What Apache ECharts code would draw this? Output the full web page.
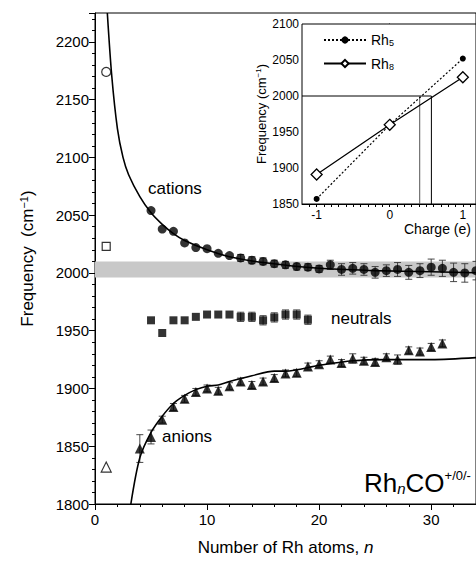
<!DOCTYPE html>
<html><head><meta charset="utf-8">
<script src="https://cdn.jsdelivr.net/npm/echarts@6/dist/echarts.min.js"></script>
<style>html,body{margin:0;padding:0;background:#fff}#c{width:476px;height:562px}</style>
</head><body><div id="c"></div>
<script>
// main plot data
const cationN = [5,6,7,8,9,10,11,12,13,14,15,16,17,18,19,20,21,22,23,24,25,26,27,28,29,30,31,32,33,34];
const cationF = [2054,2038,2036,2026,2022,2021,2017,2015,2013,2011,2010,2008,2007,2005.5,2005,2003.5,2007,2003,2004,2003,2000.5,2002,2003,2000.5,2002,2005,2004,2000.5,2000,2002];
const cationErr = [0,0,0,0,0,0,0,0,3,3,3,3,3,3,3,3,4,5,5,5,5,5,6,6,6,7,7,8,8,8];
const neutralN = [5,6,7,8,9,10,11,12,13,14,15,16,17,18,19];
const neutralF = [1959,1948,1959,1959,1962,1964,1964,1964,1962,1962,1959,1961.5,1964,1964,1959.5];
const neutralErr = [0,0,0,0,0,0,0,0,4,4,4,4,4,4,4];
const anionN = [4,5,6,7,8,9,10,11,12,13,14,15,16,17,18,19,20,21,22,23,24,25,26,27,28,29,30,31];
const anionF = [1848,1858,1873,1884,1891,1897,1900,1898,1902,1906,1903,1906,1909,1913,1913.5,1919,1921,1925,1922,1926,1924,1923,1927,1925,1933,1932,1936,1939];
const anionErr = [12,6,3,3,3,3,3,3,3,3,3,3,3,3,3,3,3,3,3,4,3,3,3,4,3,3,3,3];
const cationFit = [[1.1,2225],[1.5,2170],[2,2125],[2.5,2100],[3,2085],[4,2066],[5,2052],[6,2042],[7,2034],[8,2028],[10,2020],[12,2014],[15,2009],[20,2004],[25,2002],[30,2001],[34.5,2000]];
const anionFit = [[3.2,1800],[4,1840],[5,1862],[6,1876],[7,1887],[8,1894],[9,1899],[10,1902],[11,1903],[12,1906],[14,1911],[16,1915],[17,1915],[20,1920],[23,1924],[26,1925],[30,1925],[34.5,1927]];
const atomCation = [1, 2174], atomNeutral = [1, 2023], atomAnion = [1, 1832];
const bulkBand = [1996, 2010];
// inset data
const charge = [-1, 0, 1];
const rh5F = [1857, 1960, 2052];
const rh8F = [1891, 1960, 2026];
const crossLevel = 2000;
const crossCharges = [0.41, 0.57];

const chart = echarts.init(document.getElementById('c'), null, { renderer: 'svg' });
const font = 'Arial, "Liberation Sans", sans-serif';
const txt = { color: '#000', fontFamily: font };

const zip = (a, b) => a.map((v, i) => [v, b[i]]);
const errData = (n, f, e) => n.map((v, i) => [v, f[i] - e[i], f[i] + e[i]]).filter((d, i) => e[i] > 0);

function errSeries(data) {
	return {
		type: 'custom', xAxisIndex: 0, yAxisIndex: 0, z: 1, silent: true,
		renderItem: (params, api) => {
			const lo = api.coord([api.value(0), api.value(1)]);
			const hi = api.coord([api.value(0), api.value(2)]);
			const w = 3.5;
			const st = { stroke: '#333', lineWidth: 0.9 };
			return { type: 'group', children: [
				{ type: 'line', shape: { x1: lo[0], y1: lo[1], x2: hi[0], y2: hi[1] }, style: st },
				{ type: 'line', shape: { x1: lo[0] - w, y1: lo[1], x2: lo[0] + w, y2: lo[1] }, style: st },
				{ type: 'line', shape: { x1: hi[0] - w, y1: hi[1], x2: hi[0] + w, y2: hi[1] }, style: st }
			] };
		},
		data
	};
}

const sub = { sub: { fontSize: 9, verticalAlign: 'bottom', padding: [6, 0, 0, 0], color: '#000', fontFamily: font } };
const isInt = v => Math.abs(v - Math.round(v)) < 1e-6;

const option = {
	animation: false,
	grid: [
		{ left: 95, right: 0, top: 13, bottom: 58, show: true, borderColor: '#000', borderWidth: 1 },
		{ left: 302, right: -2, top: 24, height: 180, show: true, borderColor: '#000', borderWidth: 1, backgroundColor: '#fff', z: 5 }
	],
	xAxis: [
		{ gridIndex: 0, type: 'value', min: 0, max: 34, interval: 10,
			axisLine: { onZero: false, lineStyle: { color: '#000' } },
			axisTick: { inside: false, length: 6, lineStyle: { color: '#000' } },
			minorTick: { show: true, splitNumber: 5, length: 3, lineStyle: { color: '#000' } },
			splitLine: { show: false },
			axisLabel: { ...txt, fontSize: 15, margin: 8, showMaxLabel: false, formatter: v => v % 10 === 0 ? v : '' },
			name: 'Number of Rh atoms, {i|n}', nameLocation: 'middle', nameGap: 35,
			nameTextStyle: { ...txt, fontSize: 17, rich: { i: { fontStyle: 'italic', fontSize: 17, fontFamily: font } } } },
		{ gridIndex: 1, type: 'value', min: -1.2, max: 1.18, interval: 0.1,
			axisLine: { onZero: false, lineStyle: { color: '#000' } },
			axisTick: { length: 3, lineStyle: { color: '#000' } },
			splitLine: { show: false },
			axisLabel: { ...txt, fontSize: 12, margin: 5, showMinLabel: false, showMaxLabel: false,
				formatter: v => isInt(v) ? String(Math.round(v)) : '' } }
	],
	yAxis: [
		{ gridIndex: 0, type: 'value', min: 1800, max: 2225, interval: 50,
			axisLine: { lineStyle: { color: '#000' } },
			axisTick: { length: 6, lineStyle: { color: '#000' } },
			minorTick: { show: true, splitNumber: 5, length: 3, lineStyle: { color: '#000' } },
			splitLine: { show: false },
			axisLabel: { ...txt, fontSize: 15, margin: 6, showMaxLabel: false, formatter: v => v % 50 === 0 ? String(v) : '' },
			name: 'Frequency  (cm{s|−1})', nameLocation: 'middle', nameGap: 58,
			nameTextStyle: { ...txt, fontSize: 17, rich: { s: { fontSize: 11, verticalAlign: 'top', padding: [0, 0, 8, 0], fontFamily: font, color: '#000' } } } },
		{ gridIndex: 1, type: 'value', min: 1850, max: 2100, interval: 50,
			axisLine: { lineStyle: { color: '#000' } },
			axisTick: { length: 5, lineStyle: { color: '#000' } },
			minorTick: { show: true, splitNumber: 5, length: 3, lineStyle: { color: '#000' } },
			splitLine: { show: false },
			axisLabel: { ...txt, fontSize: 12, margin: 3, formatter: v => String(v) },
			name: 'Frequency (cm{s|−1})', nameLocation: 'middle', nameGap: 33,
			nameTextStyle: { ...txt, fontSize: 13, rich: { s: { fontSize: 8, verticalAlign: 'top', padding: [0, 0, 6, 0], fontFamily: font, color: '#000' } } } }
	],
	legend: {
		left: 318, top: 28, orient: 'vertical', itemWidth: 42, itemHeight: 9, itemGap: 9, z: 10,
		data: ['Rh5', 'Rh8'],
		formatter: n => 'Rh{sub|' + n.slice(2) + '}',
		textStyle: { ...txt, fontSize: 14, rich: sub }
	},
	series: [
		{ type: 'line', xAxisIndex: 0, yAxisIndex: 0, data: [], markArea: { silent: true, itemStyle: { color: '#c8c8c8' }, data: [[{ yAxis: bulkBand[0] }, { yAxis: bulkBand[1] }]] } },
		errSeries(errData(cationN, cationF, cationErr)),
		errSeries(errData(neutralN, neutralF, neutralErr)),
		errSeries(errData(anionN, anionF, anionErr)),
		{ type: 'line', xAxisIndex: 0, yAxisIndex: 0, data: cationFit, showSymbol: false, smooth: 0.3, lineStyle: { color: '#000', width: 1.6 }, z: 2 },
		{ type: 'line', xAxisIndex: 0, yAxisIndex: 0, data: anionFit, showSymbol: false, smooth: 0.3, lineStyle: { color: '#000', width: 1.6 }, z: 2 },
		{ type: 'scatter', xAxisIndex: 0, yAxisIndex: 0, data: zip(cationN, cationF), symbol: 'circle', symbolSize: 9, itemStyle: { color: '#000' }, z: 3 },
		{ type: 'scatter', xAxisIndex: 0, yAxisIndex: 0, data: zip(neutralN, neutralF), symbol: 'rect', symbolSize: 8, itemStyle: { color: '#000' }, z: 3 },
		{ type: 'scatter', xAxisIndex: 0, yAxisIndex: 0, data: zip(anionN, anionF), symbol: 'triangle', symbolSize: 10, itemStyle: { color: '#000' }, z: 3 },
		{ type: 'scatter', xAxisIndex: 0, yAxisIndex: 0, data: [atomCation], symbol: 'circle', symbolSize: 9, itemStyle: { color: '#fff', borderColor: '#000', borderWidth: 1.2 } },
		{ type: 'scatter', xAxisIndex: 0, yAxisIndex: 0, data: [atomNeutral], symbol: 'rect', symbolSize: 8, itemStyle: { color: '#fff', borderColor: '#000', borderWidth: 1.2 } },
		{ type: 'scatter', xAxisIndex: 0, yAxisIndex: 0, data: [atomAnion], symbol: 'triangle', symbolSize: 10, itemStyle: { color: '#fff', borderColor: '#000', borderWidth: 1.2 } },
		// inset
		{ name: 'Rh5', type: 'line', xAxisIndex: 1, yAxisIndex: 1, data: zip(charge, rh5F), symbol: 'circle', symbolSize: 6, z: 12,
			itemStyle: { color: '#000' }, lineStyle: { color: '#000', width: 1.2, type: [2, 2] } },
		{ name: 'Rh8', type: 'line', xAxisIndex: 1, yAxisIndex: 1, data: zip(charge, rh8F), symbol: 'diamond', symbolSize: 11, z: 12,
			itemStyle: { color: '#fff', borderColor: '#000', borderWidth: 1.3 }, lineStyle: { color: '#000', width: 1.3 } },
		{ type: 'line', xAxisIndex: 1, yAxisIndex: 1, z: 11, showSymbol: false, silent: true,
			data: [[-1.2, crossLevel], [crossCharges[1], crossLevel]], lineStyle: { color: '#000', width: 1 } },
		{ type: 'line', xAxisIndex: 1, yAxisIndex: 1, z: 11, showSymbol: false, silent: true,
			data: [[crossCharges[0], crossLevel], [crossCharges[0], 1850]], lineStyle: { color: '#555', width: 1 } },
		{ type: 'line', xAxisIndex: 1, yAxisIndex: 1, z: 11, showSymbol: false, silent: true,
			data: [[crossCharges[1], crossLevel], [crossCharges[1], 1850]], lineStyle: { color: '#000', width: 1 } }
	],
	graphic: [
		{ type: 'text', left: 148, top: 180, style: { text: 'cations', font: '17px ' + font, fill: '#000' } },
		{ type: 'text', left: 331, top: 310, style: { text: 'neutrals', font: '17px ' + font, fill: '#000' } },
		{ type: 'text', left: 162, top: 428, style: { text: 'anions', font: '17px ' + font, fill: '#000' } },
		{ type: 'text', left: 404, top: 222, z: 20, style: { text: 'Charge (e)', font: '14px ' + font, fill: '#000' } },
		{ type: 'text', left: 364, top: 469, style: {
			text: 'Rh{i|n}CO{s|+/0/-}', font: '26px ' + font, fill: '#000',
			rich: { i: { fontStyle: 'italic', fontSize: 15, fontFamily: font, verticalAlign: 'bottom', padding: [12, 0, 0, 0] },
				s: { fontSize: 13, fontFamily: font, verticalAlign: 'top', padding: [0, 0, 14, 0] } } } }
	]
};
chart.setOption(option);
</script></body></html>
